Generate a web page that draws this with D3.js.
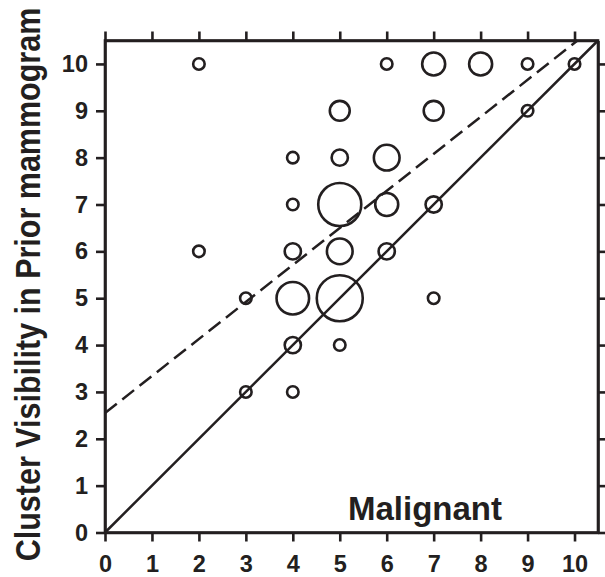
<html>
    <head>
        <style>
        body {
            margin: 0;
            background: white;
        }

        svg {
            display: block;
            font-family: 'Liberation Sans', Arial, sans-serif;
        }

        .axis text {
            font-size: 23.5px;
            font-weight: bold;
            fill: #231f20;
        }

        .axis line, .axis path {
            stroke: #231f20;
            stroke-width: 2.6;
        }
        </style>
    </head>
    <body>
        <svg width="605" height="577"></svg>

        <script src="https://d3js.org/d3.v7.min.js"></script>

        <script>
            // bubble positions (current score, prior score) and cluster counts
            let currentScore = [2, 6, 7, 8, 9, 10, 5, 7, 9, 4, 5, 6, 4, 5, 6, 7, 2, 4, 5, 6, 3, 4, 5, 7, 4, 5, 3, 4]
            let priorScore   = [10, 10, 10, 10, 10, 10, 9, 9, 9, 8, 8, 8, 7, 7, 7, 7, 6, 6, 6, 6, 5, 5, 5, 5, 4, 4, 3, 3]
            let counts       = [1, 1, 4, 4, 1, 1, 3, 3, 1, 1, 2, 5, 1, 14, 4, 2, 1, 2, 5, 2, 1, 8, 16, 1, 2, 1, 1, 1]

            let tickValues = [0, 1, 2, 3, 4, 5, 6, 7, 8, 9, 10]

            // fitted regression (dashed) and identity line (solid)
            let fitIntercept = 2.55
            let fitSlope = 0.79

            let ink = "#231f20"
            let margin = {left: 105, right: 7, top: 40.5, bottom: 44.5}
            let width = 605
            let height = 577

            let svg = d3.select("svg")

            let x = d3.scaleLinear()
                .domain([0, 10.5])
                .range([margin.left, width - margin.right])

            let y = d3.scaleLinear()
                .domain([0, 10.5])
                .range([height - margin.bottom, margin.top])

            let r = d3.scaleSqrt()
                .domain([0, 1])
                .range([0, 5.75])

            // axes on all four sides, ticks outward
            svg.append("g")
                .attr("class", "axis")
                .attr("transform", `translate(0,${y(0)})`)
                .call(d3.axisBottom(x).tickValues(tickValues).tickSize(9).tickSizeOuter(0).tickPadding(14))

            svg.append("g")
                .attr("class", "axis")
                .attr("transform", `translate(${x(0)},0)`)
                .call(d3.axisLeft(y).tickValues(tickValues).tickSize(9).tickSizeOuter(0).tickPadding(8))

            svg.append("g")
                .attr("class", "axis")
                .attr("transform", `translate(0,${y(10.5)})`)
                .call(d3.axisTop(x).tickValues(tickValues).tickSize(9).tickSizeOuter(0).tickFormat(""))

            svg.append("g")
                .attr("class", "axis")
                .attr("transform", `translate(${x(10.5)},0)`)
                .call(d3.axisRight(y).tickValues(tickValues).tickSize(9).tickSizeOuter(0).tickFormat(""))

            // frame so corners close cleanly
            svg.append("rect")
                .attr("x", x(0))
                .attr("y", y(10.5))
                .attr("width", x(10.5) - x(0))
                .attr("height", y(0) - y(10.5))
                .style("fill", "none")
                .style("stroke", ink)
                .style("stroke-width", 2.6)

            // identity line
            svg.append("line")
                .attr("x1", x(0))
                .attr("y1", y(0))
                .attr("x2", x(10.5))
                .attr("y2", y(10.5))
                .style("stroke", ink)
                .style("stroke-width", 2.5)

            // dashed fit line, stops at the top of the frame
            let xEnd = (10.5 - fitIntercept) / fitSlope
            svg.append("line")
                .attr("x1", x(0))
                .attr("y1", y(fitIntercept))
                .attr("x2", x(xEnd))
                .attr("y2", y(10.5))
                .style("stroke", ink)
                .style("stroke-width", 2.5)
                .style("stroke-dasharray", "15,7")

            let points = currentScore.map((d, i) => ({cx: d, cy: priorScore[i], n: counts[i]}))

            svg.append("g")
                .selectAll("circle")
                .data(points)
                .enter().append("circle")
                .attr("cx", d => x(d.cx))
                .attr("cy", d => y(d.cy))
                .attr("r", d => r(d.n))
                .style("fill", "none")
                .style("stroke", ink)
                .style("stroke-width", 2.6)

            svg.append("text")
                .attr("x", 348)
                .attr("y", 520)
                .text("Malignant")
                .style("font-size", "33px")
                .style("font-weight", "bold")
                .style("fill", ink)

            // title is a bit stretched across (taller glyphs than its length suggests)
            let stretch = 1.15
            svg.append("text")
                .attr("transform", `rotate(-90) scale(1, ${stretch})`)
                .attr("x", -(y(0) + y(10.5)) / 2 + 2)
                .attr("y", 40 / stretch)
                .attr("text-anchor", "middle")
                .text("Cluster Visibility in Prior mammogram")
                .style("font-size", "30.5px")
                .style("font-weight", "bold")
                .style("fill", ink)
        </script>
    </body>
</html>
